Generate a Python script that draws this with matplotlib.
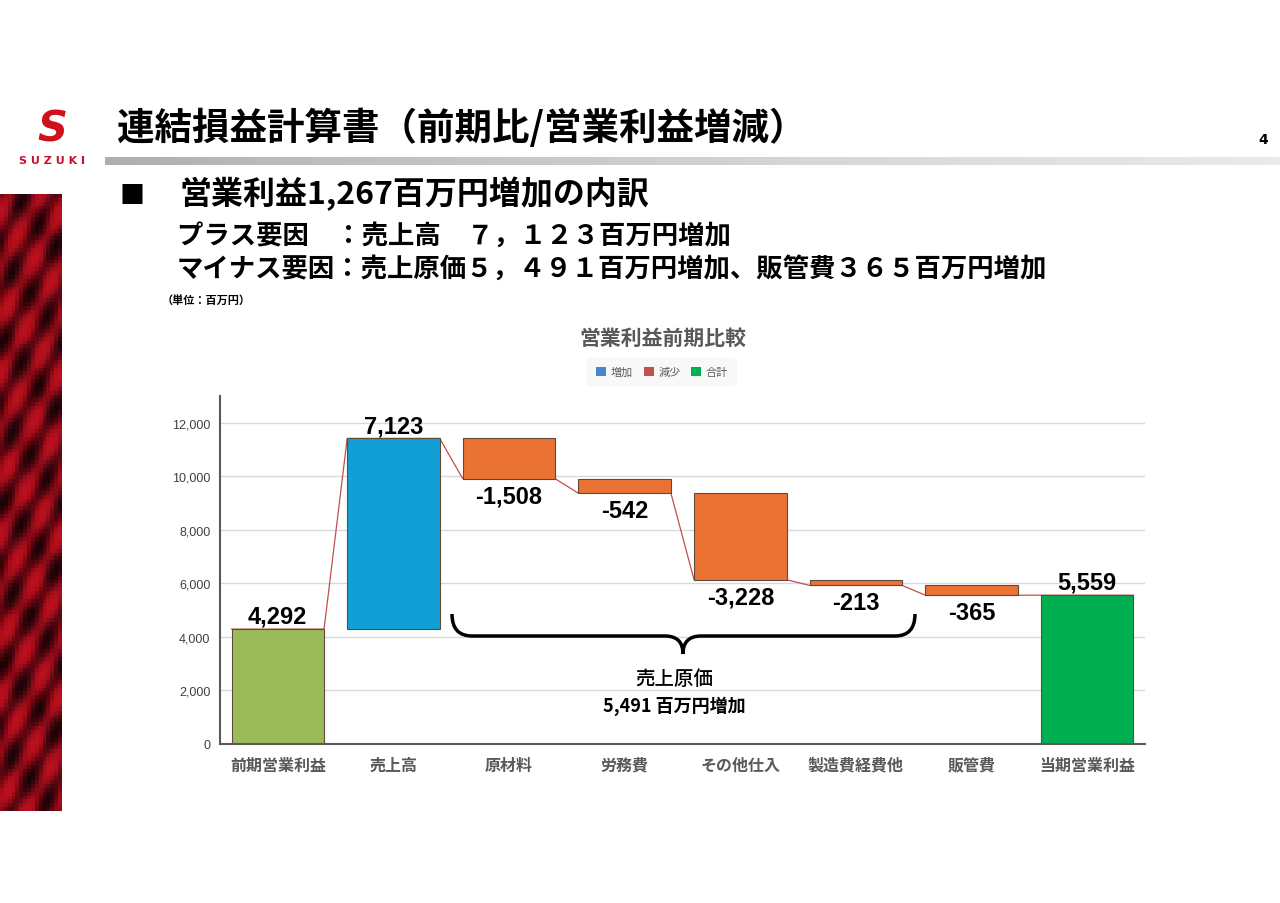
import numpy as np
import matplotlib
matplotlib.use('Agg')
import matplotlib.pyplot as plt
from matplotlib.patches import Patch, PathPatch
from matplotlib.path import Path
from matplotlib.colors import LinearSegmentedColormap

plt.rcParams['font.family'] = ['Noto Sans CJK JP', 'DejaVu Sans']

# データ（単位：百万円）
categories = ['前期営業利益', '売上高', '原材料', '労務費', 'その他仕入', '製造費経費他', '販管費', '当期営業利益']
changes = [4292, 7123, -1508, -542, -3228, -213, -365, 5559]
kinds = ['total', 'inc', 'dec', 'dec', 'dec', 'dec', 'dec', 'total']
yticks = [0, 2000, 4000, 6000, 8000, 10000, 12000]

bar_colors = {'total_first': '#9BBB59', 'inc': '#129FD6', 'dec': '#EA7233', 'total_last': '#00B050'}
legend_labels = ['増加', '減少', '合計']
legend_colors = ['#4A86D0', '#C0504D', '#00B050']

W, H = 1280, 904
fig = plt.figure(figsize=(W / 100, H / 100), dpi=100)


def px(x, y):
    return x / W, 1 - y / H


# 左側の装飾（写真の代わり）
side = fig.add_axes([0, 1 - 812 / H, 62 / W, (812 - 195) / H])
yy, xx = np.mgrid[0:160, 0:16]
pat = 0.5 + 0.3 * np.sin((xx * 0.9 + yy * 0.5) * 0.9) + 0.2 * np.sin(yy * 0.3 - xx * 0.4)
side_cmap = LinearSegmentedColormap.from_list('side', ['#1a0306', '#5a0610', '#a50d1a', '#c4121f'])
side.imshow(pat, cmap=side_cmap, aspect='auto', vmin=0, vmax=1.1)
side.axis('off')

# ロゴ
fig.text(*px(52, 130), 'S', fontsize=30, fontweight='bold', style='italic',
         color='#D0101B', ha='center', va='center', family='DejaVu Sans')
fig.text(*px(52, 161), 'S U Z U K I', fontsize=8, fontweight='bold',
         color='#C8102E', ha='center', va='center', family='DejaVu Sans')

# タイトル
fig.text(*px(117, 128), '連結損益計算書（前期比/営業利益増減）', fontsize=27,
         fontweight='bold', ha='left', va='center')
fig.text(*px(1263, 140), '4', fontsize=10, fontweight='bold', ha='center', va='center',
         family='DejaVu Sans')

bar_ax = fig.add_axes([105 / W, 1 - 166 / H, (W - 105) / W, 8 / H])
bar_ax.imshow(np.linspace(0, 1, 200)[None, :], cmap='Greys_r', vmin=-2.2, vmax=1.6, aspect='auto')
bar_ax.axis('off')

fig.text(*px(132, 196), '■', fontsize=18, ha='center', va='center')
fig.text(*px(180, 194), '営業利益1,267百万円増加の内訳', fontsize=23, fontweight='bold',
         ha='left', va='center')
fig.text(*px(177, 236), 'プラス要因\u3000：売上高\u3000７，１２３百万円増加', fontsize=19,
         fontweight='bold', ha='left', va='center')
fig.text(*px(177, 269), 'マイナス要因：売上原価５，４９１百万円増加、販管費３６５百万円増加',
         fontsize=19, fontweight='bold', ha='left', va='center')
fig.text(*px(162, 300), '（単位：百万円）', fontsize=8, fontweight='bold', ha='left', va='center')

# チャートタイトルと凡例
fig.text(*px(663, 338), '営業利益前期比較', fontsize=15, fontweight='bold', color='#595959',
         ha='center', va='center')
handles = [Patch(facecolor=c, edgecolor='none') for c in legend_colors]
leg = fig.legend(handles, legend_labels, loc='center', bbox_to_anchor=px(662, 373), ncol=3,
                 fontsize=8, frameon=True, handlelength=0.9, handleheight=0.9,
                 handletextpad=0.4, columnspacing=1.0, borderpad=0.8)
leg.get_frame().set_facecolor('#F7F7F7')
leg.get_frame().set_edgecolor('none')
for t in leg.get_texts():
    t.set_color('#595959')

# ウォーターフォール
ax = fig.add_axes([220 / W, 1 - 745 / H, 925 / W, (745 - 397) / H])
x = np.arange(len(categories))
bottoms, heights, colors, ends = [], [], [], []
running = 0
for i, (v, k) in enumerate(zip(changes, kinds)):
    if k == 'total':
        bottoms.append(0)
        heights.append(v)
        colors.append(bar_colors['total_first'] if i == 0 else bar_colors['total_last'])
        running = v
    else:
        bottoms.append(running if v > 0 else running + v)
        heights.append(abs(v))
        colors.append(bar_colors[k])
        running += v
    ends.append(running)

# 連結線
lx, ly = [], []
for i, e in enumerate(ends):
    lx += [i - 0.4, i + 0.4]
    ly += [e, e]
ax.plot(lx, ly, color='#C0504D', lw=0.9, zorder=1)

ax.bar(x, heights, bottom=bottoms, width=0.8, color=colors, edgecolor='#5E4B3C',
       linewidth=0.8, zorder=2)

for i, (v, k) in enumerate(zip(changes, kinds)):
    if k == 'dec':
        ax.annotate(f'{v:,}', (x[i], bottoms[i]), xytext=(0, -4), textcoords='offset points',
                    ha='center', va='top', fontsize=17, fontweight='bold',
                    family='Liberation Sans')
    else:
        ax.annotate(f'{v:,}', (x[i], bottoms[i] + heights[i]), xytext=(0, 1),
                    textcoords='offset points', ha='center', va='bottom', fontsize=17,
                    fontweight='bold', family='Liberation Sans')

ax.set_xlim(-0.5, len(categories) - 0.5)
ax.set_ylim(0, 13000)
ax.set_yticks(yticks)
ax.set_yticklabels([f'{t:,}' for t in yticks], fontsize=9, color='#404040',
                   family='Liberation Sans')
ax.set_xticks(x)
ax.set_xticklabels(categories, fontsize=11.5, fontweight='bold', color='#595959')
ax.tick_params(axis='both', length=0)
ax.tick_params(axis='y', pad=7)
ax.tick_params(axis='x', pad=9)
ax.grid(axis='y', color='#D9D9D9', lw=1)
ax.set_axisbelow(True)
for s in ['top', 'right']:
    ax.spines[s].set_visible(False)
ax.spines['left'].set_color('#595959')
ax.spines['bottom'].set_color('#595959')
ax.spines['left'].set_linewidth(1.5)
ax.spines['bottom'].set_linewidth(1.5)

# 売上原価の括弧
pts = [(452, 615), (452, 637), (472, 637), (665, 637), (683, 637), (683, 655),
       (683, 637), (701, 637), (895, 637), (915, 637), (915, 615)]
codes = [Path.MOVETO, Path.CURVE3, Path.CURVE3, Path.LINETO, Path.CURVE3, Path.CURVE3,
         Path.CURVE3, Path.CURVE3, Path.LINETO, Path.CURVE3, Path.CURVE3]
brace = Path([px(a, b) for a, b in pts], codes)
fig.add_artist(PathPatch(brace, facecolor='none', edgecolor='black', lw=2.5,
                         transform=fig.transFigure))
fig.text(*px(674, 680), '売上原価', fontsize=14, ha='center', va='center', fontweight='medium')
fig.text(*px(674, 706), '5,491 百万円増加', fontsize=13, ha='center', va='center',
         fontweight='bold')

fig.savefig('out.png', dpi=100)
